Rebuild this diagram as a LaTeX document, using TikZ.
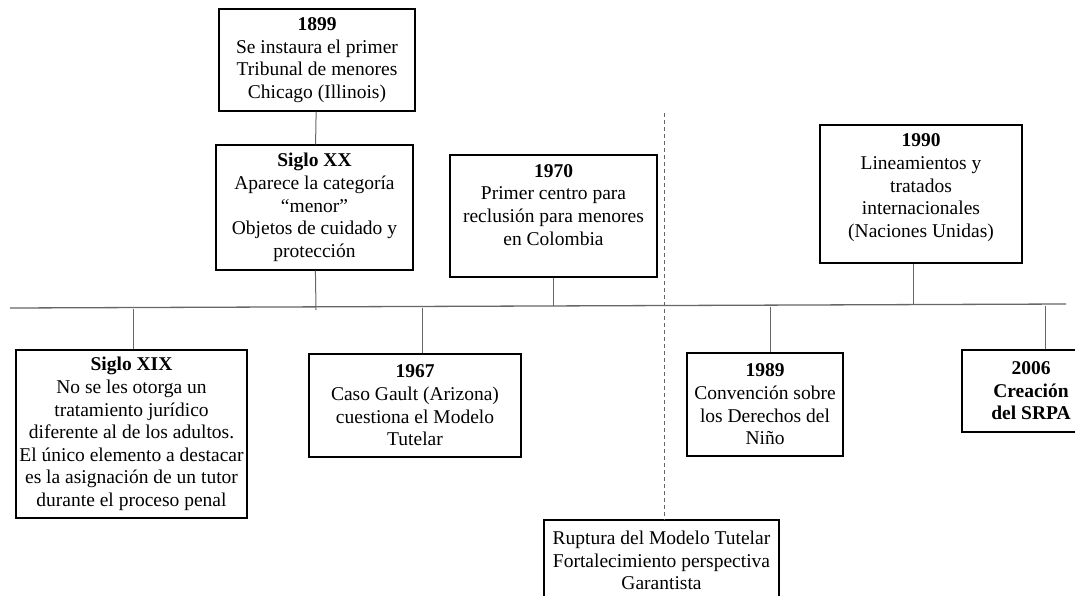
\documentclass[tikz,border=0pt]{standalone}
\usepackage{fontspec}
\setmainfont{Liberation Serif}

\begin{document}
\begin{tikzpicture}[
    x=1pt, y=-1pt,
    event/.style={draw=black, line width=1.3pt, align=center, inner sep=0pt,
                  font=\fontsize{19.5}{22.6}\selectfont},
    link/.style={gray!80!black, line width=1pt},
    era/.style={link, dash pattern=on 4pt off 3pt}
]
    \clip (0,0) rectangle (1075,595);

    % --- Upper boxes ---
    \node[event, minimum width=196pt, minimum height=102pt] (y1899) at (317,60)
        {\textbf{1899}\\Se instaura el primer\\Tribunal de menores\\Chicago (Illinois)};
    \node[event, minimum width=197pt, minimum height=125pt] (sXX) at (314.5,207.5)
        {\textbf{Siglo XX}\\Aparece la categoría\\“menor”\\Objetos de cuidado y\\protección};
    \node[event, minimum width=207pt, minimum height=122pt] (y1970) at (553.5,216)
        {\textbf{1970}\\Primer centro para\\reclusión para menores\\en Colombia\\\mbox{}};
    \node[event, minimum width=202pt, minimum height=138pt] (y1990) at (921,194)
        {\textbf{1990}\\Lineamientos y\\tratados\\internacionales\\(Naciones Unidas)\\[-6pt]\mbox{}};

    % --- Lower boxes ---
    \node[event, minimum width=231pt, minimum height=168pt] (sXIX) at (131.5,434)
        {\textbf{Siglo XIX}\\No se les otorga un\\tratamiento jurídico\\diferente al de los adultos.\\El único elemento a destacar\\es la asignación de un tutor\\durante el proceso penal};
    \node[event, minimum width=212pt, minimum height=103pt] (y1967) at (415,405.5)
        {\textbf{1967}\\Caso Gault (Arizona)\\cuestiona el Modelo\\Tutelar};
    \node[event, minimum width=156pt, minimum height=103pt] (y1989) at (765,404.5)
        {\textbf{1989}\\Convención sobre\\los Derechos del\\Niño};
    \node[event, minimum width=138pt, minimum height=82pt] (y2006) at (1031,391)
        {\textbf{2006}\\\textbf{Creación}\\\textbf{del SRPA}};
    \node[event, minimum width=235pt, minimum height=81pt] (rupt) at (661.5,560.5)
        {Ruptura del Modelo Tutelar\\Fortalecimiento perspectiva\\Garantista};

    % --- Timeline ---
    \coordinate (tlA) at (10,308);
    \coordinate (tlB) at (1066,304);
    \draw[link, line width=1.3pt] (tlA) -- (tlB);

    % points where the boxes meet the line
    \coordinate (kXX) at (316,310);
    \coordinate (k1970) at (553,306);
    \coordinate (k1990) at (913,305);
    \coordinate (kXIX) at (133,309);
    \coordinate (k1967) at (422,308);
    \coordinate (k1989) at (770,307);
    \coordinate (k2006) at (1045,306);
    \coordinate (cut) at (664,113);

    % --- Connectors ---
    \draw[link] (y1899) -- (sXX);
    \draw[link] (sXX) -- (kXX);
    \draw[link] (k1970 |- y1970.south) -- (k1970);
    \draw[link] (k1990 |- y1990.south) -- (k1990);
    \draw[link] (kXIX) -- (kXIX |- sXIX.north);
    \draw[link] (k1967) -- (k1967 |- y1967.north);
    \draw[link] (k1989) -- (k1989 |- y1989.north);
    \draw[link] (k2006) -- (k2006 |- y2006.north);
    \draw[era] (cut) -- (cut |- rupt.north);

\end{tikzpicture}
\end{document}
